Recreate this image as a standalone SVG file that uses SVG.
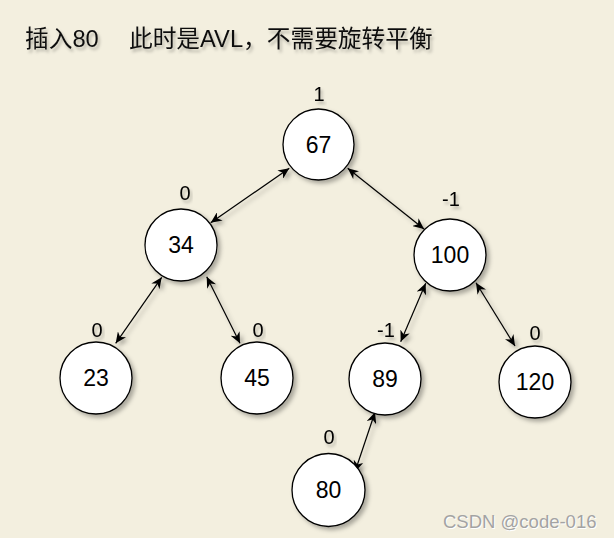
<svg xmlns="http://www.w3.org/2000/svg" width="614" height="538" viewBox="0 0 614 538">
<style>
.bg{fill:#f3efdf}
.node circle{fill:#ffffff;stroke:#000000;stroke-width:1.3;filter:url(#sh)}
.node text{font-family:"Liberation Sans",Arial,sans-serif;font-size:23px;fill:#000;text-anchor:middle;dominant-baseline:central}
.bf{font-family:"Liberation Sans",Arial,sans-serif;font-size:20px;fill:#000;text-anchor:middle;filter:url(#tsh)}
.edge{stroke:#000;stroke-width:1.2;fill:none;marker-start:url(#ah);marker-end:url(#ah)}
#connectors{filter:url(#sh)}
.title{font-family:"Liberation Sans","Noto Sans CJK SC",sans-serif;font-size:23.7px;fill:#111;filter:url(#tsh)}
.wm{font-family:"Liberation Sans",Arial,sans-serif;font-size:18.5px;fill:#a3a3a3}
.wm2{font-family:"Liberation Sans",Arial,sans-serif;font-size:18.5px;fill:#ffffff}
</style>
<defs>
<filter id="sh" x="-30%" y="-30%" width="170%" height="170%">
<feDropShadow dx="3" dy="3" stdDeviation="2" flood-color="#000" flood-opacity="0.3"/>
</filter>
<filter id="tsh" x="-10%" y="-30%" width="130%" height="180%">
<feDropShadow dx="2" dy="3" stdDeviation="1.5" flood-color="#000" flood-opacity="0.25"/>
</filter>
<marker id="ah" viewBox="0 0 10 10" refX="10" refY="5" markerWidth="11" markerHeight="10" orient="auto-start-reverse" markerUnits="userSpaceOnUse" preserveAspectRatio="none">
<path d="M0,0 L10,5 L0,10 L3,5 Z" fill="#000"/>
</marker>
</defs>
<rect class="bg" x="0" y="0" width="614" height="538"/>
<text class="title" x="25" y="47">插入80　 此时是AVL，不需要旋转平衡</text>
<g id="connectors">
<line class="edge" x1="289.3" y1="168.3" x2="210.7" y2="222.7"/>
<line class="edge" x1="347.7" y1="168.3" x2="424" y2="229"/>
<line class="edge" x1="161.7" y1="277.3" x2="115.7" y2="343.3"/>
<line class="edge" x1="206.7" y1="276.7" x2="240" y2="343.3"/>
<line class="edge" x1="425.7" y1="283.3" x2="400.7" y2="341.7"/>
<line class="edge" x1="476" y1="282.7" x2="515" y2="346"/>
<line class="edge" x1="375" y1="412.3" x2="355" y2="471.7"/>
</g>
<g id="n67" class="node"><circle cx="318.5" cy="144.5" r="35.5"/><text x="318.5" y="145">67</text></g>
<g id="n34" class="node"><circle cx="181" cy="245" r="36"/><text x="181" y="245">34</text></g>
<g id="n100" class="node"><circle cx="450" cy="255" r="36"/><text x="450" y="255">100</text></g>
<g id="n23" class="node"><circle cx="96" cy="378" r="36"/><text x="96" y="378">23</text></g>
<g id="n45" class="node"><circle cx="257" cy="378" r="36"/><text x="257" y="378">45</text></g>
<g id="n89" class="node"><circle cx="385" cy="379" r="36"/><text x="385" y="379">89</text></g>
<g id="n120" class="node"><circle cx="535" cy="382" r="36"/><text x="535" y="382">120</text></g>
<g id="n80" class="node"><circle cx="328.5" cy="490" r="36.5"/><text x="328.5" y="490">80</text></g>
<g id="bfs">
<text class="bf" x="319" y="101">1</text>
<text class="bf" x="185" y="200">0</text>
<text class="bf" x="451" y="206">-1</text>
<text class="bf" x="97" y="337">0</text>
<text class="bf" x="258" y="337">0</text>
<text class="bf" x="386" y="337">-1</text>
<text class="bf" x="535" y="340">0</text>
<text class="bf" x="329" y="444">0</text>
</g>
<text class="wm2" x="444" y="529">CSDN @code-016</text>
<text class="wm" x="443" y="528">CSDN @code-016</text>
</svg>
